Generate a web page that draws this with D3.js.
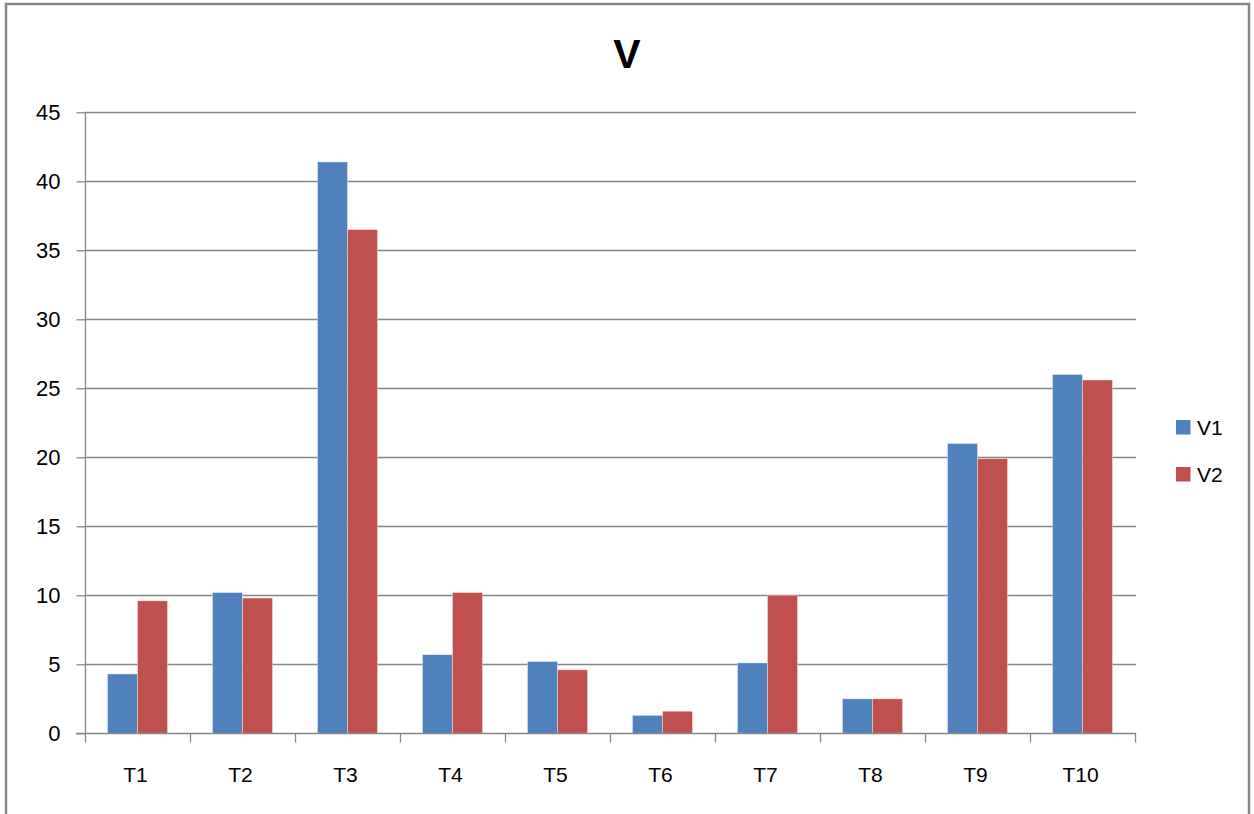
<!DOCTYPE html>
<html>
<head>
<meta charset="utf-8">
<script src="https://cdn.jsdelivr.net/npm/d3@7"></script>
<style>
  html, body { margin: 0; padding: 0; background: #fff; }
  svg { display: block; }
  text { font-family: "Liberation Sans", Arial, sans-serif; fill: #000; }
</style>
</head>
<body>
<script>
// Chart data
const categories = ["T1", "T2", "T3", "T4", "T5", "T6", "T7", "T8", "T9", "T10"];
const seriesNames = ["V1", "V2"];
const v1 = [4.3, 10.2, 41.4, 5.7, 5.2, 1.3, 5.1, 2.5, 21.0, 26.0];
const v2 = [9.6, 9.8, 36.5, 10.2, 4.6, 1.6, 10.0, 2.5, 19.9, 25.6];
const yTicks = [0, 5, 10, 15, 20, 25, 30, 35, 40, 45];
const colors = ["#4F81BD", "#C0504D"];

const W = 1254, H = 814;
const plot = { left: 85, right: 1135, top: 112.3, bottom: 733.3 };
const gray = "#868686";
const labelColor = "#111";

const svg = d3.select("body").append("svg")
  .attr("width", W).attr("height", H);

// Outer chart frame
svg.append("rect")
  .attr("x", 6).attr("y", 4)
  .attr("width", 1243).attr("height", 830)
  .attr("fill", "#fff")
  .attr("stroke", gray).attr("stroke-width", 2.5);

// Title
svg.append("text")
  .attr("x", 627).attr("y", 68)
  .attr("text-anchor", "middle")
  .attr("font-size", 41).attr("font-weight", "bold")
  .text("V");

const x = d3.scaleBand()
  .domain(categories)
  .range([plot.left, plot.right])
  .paddingInner(0).paddingOuter(0);

const y = d3.scaleLinear()
  .domain([0, 45])
  .range([plot.bottom, plot.top]);

// Horizontal gridlines
svg.append("g")
  .selectAll("line")
  .data(yTicks.filter(d => d > 0))
  .join("line")
  .attr("x1", plot.left).attr("x2", plot.right + 1)
  .attr("y1", d => Math.round(y(d)) + 0.5)
  .attr("y2", d => Math.round(y(d)) + 0.5)
  .attr("stroke", gray).attr("stroke-width", 1.3);

// Bars, grouped per category (gap width 150%)
const barW = x.bandwidth() / 3.5;
const gapOff = (x.bandwidth() - 2 * barW) / 2;
const series = [v1, v2];
series.forEach((vals, si) => {
  svg.append("g")
    .selectAll("rect")
    .data(vals)
    .join("rect")
    .attr("x", (d, i) => x(categories[i]) + gapOff + si * barW)
    .attr("y", d => y(d))
    .attr("width", barW)
    .attr("height", d => y(0) - y(d))
    .attr("fill", colors[si])
    .attr("stroke", "rgba(255,255,255,0.45)")
    .attr("stroke-width", 0.8);
});

// Y axis
const yAxis = d3.axisLeft(y)
  .tickValues(yTicks)
  .tickSize(9)
  .tickPadding(16)
  .tickFormat(d3.format("d"));
const gy = svg.append("g")
  .attr("transform", `translate(${plot.left + 0.5},0)`)
  .call(yAxis);
gy.select(".domain").attr("stroke", gray).attr("stroke-width", 1.3)
  .attr("d", `M0,${plot.top}V${plot.bottom}`);
gy.selectAll(".tick line").attr("stroke", gray).attr("stroke-width", 1.3);
gy.selectAll(".tick text")
  .attr("font-size", 22)
  .attr("font-family", "'Liberation Sans', Arial, sans-serif")
  .attr("fill", labelColor);

// X axis, ticks at category boundaries
const gx = svg.append("g")
  .attr("transform", `translate(0,${Math.round(plot.bottom) + 0.5})`);
gx.append("line")
  .attr("x1", plot.left - 9).attr("x2", plot.right + 1)
  .attr("stroke", gray).attr("stroke-width", 1.3);
const bounds = categories.map(c => x(c)).concat([plot.right]);
gx.selectAll("line.tk")
  .data(bounds)
  .join("line")
  .attr("class", "tk")
  .attr("x1", d => Math.round(d) + 0.5).attr("x2", d => Math.round(d) + 0.5)
  .attr("y1", 0).attr("y2", 9)
  .attr("stroke", gray).attr("stroke-width", 1.3);
gx.selectAll("text")
  .data(categories)
  .join("text")
  .attr("x", d => x(d) + x.bandwidth() / 2 - 2)
  .attr("y", 48.5)
  .attr("text-anchor", "middle")
  .attr("font-size", 21)
  .attr("fill", labelColor)
  .text(d => d);

// Legend
const legend = svg.append("g");
seriesNames.forEach((name, i) => {
  const ly = 420 + i * 47;
  legend.append("rect")
    .attr("x", 1176).attr("y", ly)
    .attr("width", 14.5).attr("height", 14.5)
    .attr("fill", colors[i]);
  legend.append("text")
    .attr("x", 1197).attr("y", ly + 15)
    .attr("font-size", 21)
    .attr("fill", labelColor)
    .text(name);
});
</script>
</body>
</html>
